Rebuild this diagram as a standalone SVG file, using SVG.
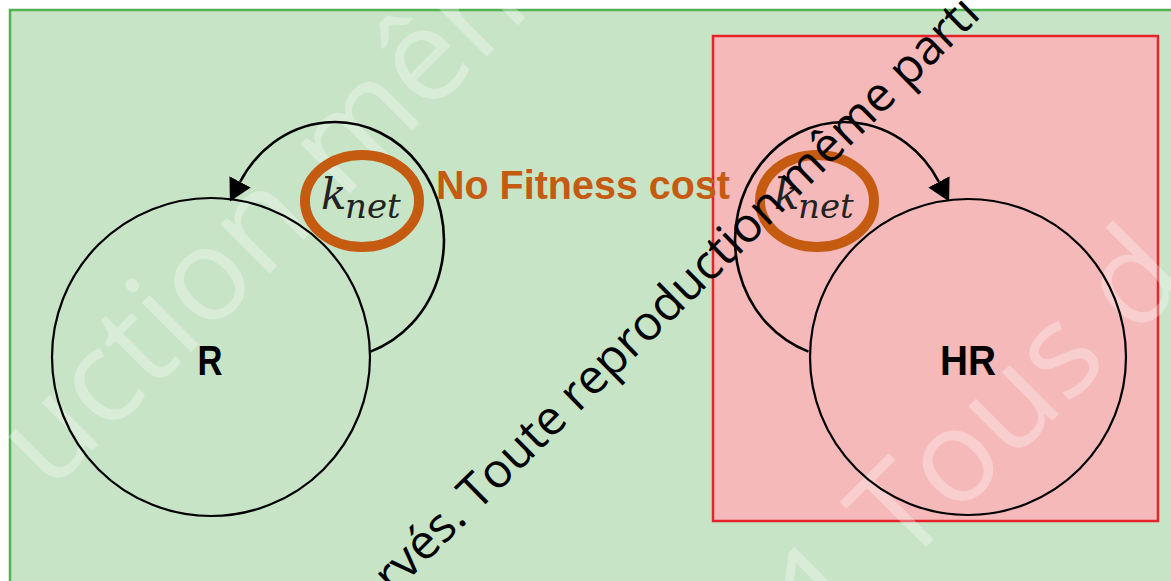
<svg xmlns="http://www.w3.org/2000/svg" width="1171" height="581" viewBox="0 0 1171 581">
  <defs>
    <style>
      .node { fill: none; stroke: #000; stroke-width: 2.2; }
      .loop { fill: none; stroke: #000; stroke-width: 2.6; }
      .ring { fill: none; stroke: #C55A11; stroke-width: 10; }
      .lbl { font-family: "Liberation Sans", Arial, sans-serif; font-weight: bold; fill: #000; text-anchor: middle; }
      .k { font-family: "DejaVu Serif", serif; font-style: italic; fill: #222; }
      .cost { font-family: "Liberation Sans", Arial, sans-serif; font-weight: bold; fill: #C55A11; font-size: 41px; }
      .wm { font-family: "Open Sans", "DejaVu Sans", sans-serif; fill: #000; font-size: 48px; }
      .wmw { font-family: "Open Sans", "DejaVu Sans", sans-serif; fill: #FFFFFF; fill-opacity: 0.3; font-size: 130px; }
    </style>
    <marker id="arrow" viewBox="0 -12 22 24" refX="0" refY="0" markerWidth="22" markerHeight="24" markerUnits="userSpaceOnUse" orient="auto">
      <path d="M0,-12 L22,0 L0,12 z" fill="#000"/>
    </marker>
  </defs>

  <rect x="0" y="0" width="1171" height="581" fill="#FFFFFF"/>

  <g id="background">
    <rect x="10" y="10" width="1175" height="590" fill="#C7E4C7" stroke="#52B152" stroke-width="2.5"/>
  </g>

  <g id="hr-zone">
    <rect x="713" y="36" width="445" height="485" fill="#F6B9B9" stroke="#E4232A" stroke-width="2.5"/>
  </g>

  <g id="watermark-faint">
    <text class="wmw" transform="translate(50,493) rotate(-45)">uction mêm</text>
    <text class="wmw" transform="translate(828,645) rotate(-45)">1 Tous d</text>
  </g>

  <g id="node-R">
    <circle class="node" cx="211" cy="357" r="159"/>
    <text class="lbl" x="210" y="375" font-size="42" textLength="25" lengthAdjust="spacingAndGlyphs">R</text>
  </g>

  <g id="node-HR">
    <circle class="node" cx="968" cy="357" r="158"/>
    <text class="lbl" x="968" y="375" font-size="42" textLength="56" lengthAdjust="spacingAndGlyphs">HR</text>
  </g>

  <g id="connectors">
    <path class="loop" d="M370.5,351.6 A109,118 0 1 0 240.1,181.9" marker-end="url(#arrow)"/>
    <path class="loop" d="M808.5,351.6 A109,118 0 1 1 938.9,181.9" marker-end="url(#arrow)"/>
  </g>

  <g id="label-knet-R">
    <ellipse class="ring" cx="362" cy="201" rx="57" ry="46"/>
    <text class="k" x="321" y="209" font-size="42">k</text>
    <text class="k" x="345" y="218" font-size="34">net</text>
  </g>

  <g id="label-knet-HR">
    <ellipse class="ring" cx="817" cy="201" rx="57" ry="46"/>
    <text class="k" x="774" y="209" font-size="42">k</text>
    <text class="k" x="798" y="218" font-size="34">net</text>
  </g>

  <g id="label-cost">
    <text class="cost" x="436" y="199" textLength="294" lengthAdjust="spacingAndGlyphs">No Fitness cost</text>
  </g>

  <g id="watermark">
    <text class="wm" transform="translate(393,595) rotate(-44.5)">rvés. Toute reproduction même parti</text>
  </g>
</svg>
